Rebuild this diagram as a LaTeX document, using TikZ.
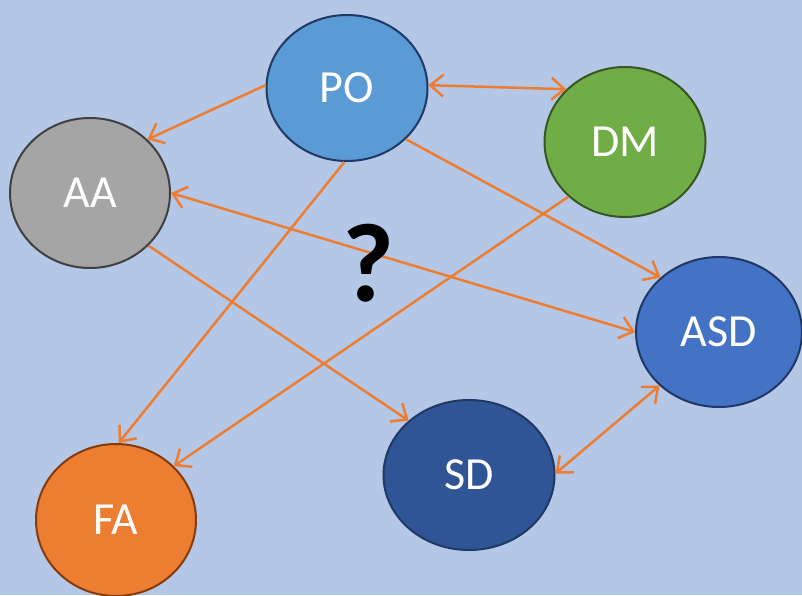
\documentclass[tikz,border=0pt]{standalone}
\usepackage{fontspec}
\setmainfont{Carlito}
\usetikzlibrary{shapes.geometric,arrows.meta}
\definecolor{bgblue}{HTML}{B4C7E7}
\definecolor{linkorange}{HTML}{ED7D31}
\definecolor{poblue}{HTML}{5B9BD5}
\definecolor{dmgreen}{HTML}{70AD47}
\definecolor{aagrey}{HTML}{A5A5A5}
\definecolor{asdblue}{HTML}{4472C4}
\definecolor{sdblue}{HTML}{2F5597}
\definecolor{faorange}{HTML}{ED7D31}
\definecolor{navyline}{HTML}{1F3864}
\definecolor{greenline}{HTML}{375623}
\definecolor{greyline}{HTML}{404040}
\definecolor{brownline}{HTML}{843C0C}
\begin{document}
\begin{tikzpicture}[x=1pt,y=-1pt,
  >={Straight Barb[length=13pt,width=22pt,line width=2.5pt]},
  bubble/.style={ellipse, draw, line width=2pt, inner sep=0pt, text=white,
    font=\fontsize{46}{50}\selectfont},
  link/.style={draw=linkorange, line width=2.5pt}]
\fill[bgblue] (0,0) rectangle (802,595);
\useasboundingbox (0,0) rectangle (802,595);
\node[bubble, fill=poblue, draw=navyline, minimum width=161, minimum height=146] (PO) at (347,88) {PO};
\node[bubble, fill=dmgreen, draw=greenline, minimum width=161, minimum height=150] (DM) at (625,142) {DM};
\node[bubble, fill=aagrey, draw=greyline, minimum width=160, minimum height=150] (AA) at (90,193) {AA};
\node[bubble, fill=asdblue, draw=navyline, minimum width=166, minimum height=150] (ASD) at (719,332) {ASD};
\node[bubble, fill=sdblue, draw=navyline, minimum width=171, minimum height=150] (SD) at (469,475) {SD};
\node[bubble, fill=faorange, draw=brownline, minimum width=160, minimum height=152] (FA) at (116,520) {FA};
\draw[link, ->] (PO.178) -- (AA.43);
\draw[link, <->] (PO.2) -- (DM.138);
\draw[link, ->] (PO.319) -- (ASD.137);
\draw[link, ->] (PO.268) -- (FA.88);
\draw[link, ->] (DM.224) -- (FA.43);
\draw[link, <->] (AA.0) -- (ASD.180);
\draw[link, ->] (AA.318) -- (SD.138);
\draw[link, <->] (ASD.222) -- (SD.1);
\node[font=\fontsize{112}{112}\selectfont\bfseries] (Q) at (368,263) {?};
\end{tikzpicture}
\end{document}
